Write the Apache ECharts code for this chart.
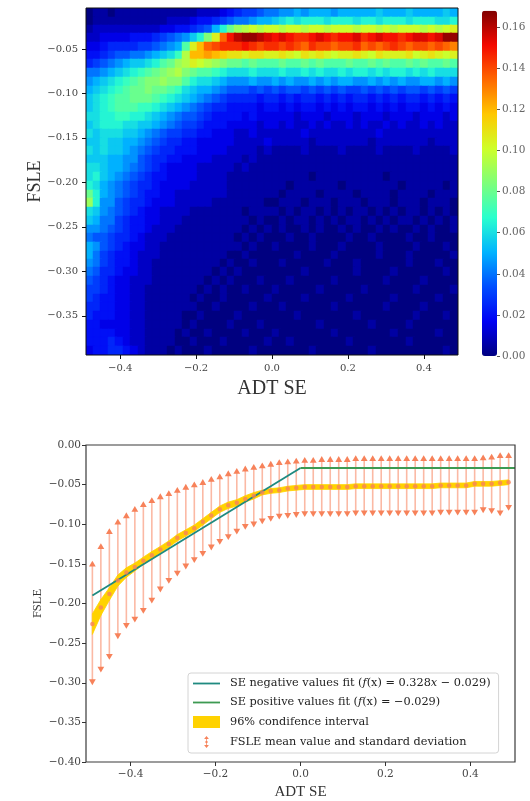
<!DOCTYPE html>
<html><head><meta charset="utf-8">
<script src="https://cdn.jsdelivr.net/npm/echarts@6/dist/echarts.min.js"></script>
<style>html,body{margin:0;padding:0;background:#fff}#c{width:530px;height:801px}</style>
</head><body><div id="c"></div>
<script>
// ---------- data ----------
const xs = [-0.49,-0.47,-0.45,-0.43,-0.41,-0.39,-0.37,-0.35,-0.33,-0.31,-0.29,-0.27,-0.25,-0.23,-0.21,-0.19,-0.17,-0.15,-0.13,-0.11,-0.09,-0.07,-0.05,-0.03,-0.01,0.01,0.03,0.05,0.07,0.09,0.11,0.13,0.15,0.17,0.19,0.21,0.23,0.25,0.27,0.29,0.31,0.33,0.35,0.37,0.39,0.41,0.43,0.45,0.47,0.49];
const heatX = [-0.480,-0.461,-0.441,-0.421,-0.402,-0.382,-0.363,-0.343,-0.323,-0.304,-0.284,-0.265,-0.245,-0.225,-0.206,-0.186,-0.167,-0.147,-0.127,-0.108,-0.088,-0.069,-0.049,-0.029,-0.010,0.010,0.029,0.049,0.069,0.088,0.108,0.127,0.147,0.167,0.186,0.206,0.225,0.245,0.265,0.284,0.304,0.323,0.343,0.363,0.382,0.402,0.421,0.441,0.461,0.480];
const heatY = [-0.009,-0.019,-0.028,-0.038,-0.048,-0.058,-0.067,-0.077,-0.087,-0.097,-0.106,-0.116,-0.126,-0.136,-0.145,-0.155,-0.165,-0.175,-0.184,-0.194,-0.204,-0.214,-0.223,-0.233,-0.243,-0.253,-0.262,-0.272,-0.282,-0.292,-0.301,-0.311,-0.321,-0.331,-0.340,-0.350,-0.360,-0.370,-0.379,-0.389];
const heatBinW = 0.0196, heatBinH = 0.00975;
// heatmap density, one string per row (top to bottom), one char per column; char index * 0.005
const HEAT_LEVELS = '0123456789abcdefghijklmnopqrstuvwxy';
const HEAT_STEP = 0.005;
const heatRows = [
"01101111111111122234"+"56678"+"899a9aaa9aaaaabaaabaaaaba",
"01111111111222344567"+"889aa"+"bcdcdddcdddcddcdddcdddccd",
"12222222223344567adg"+"ijkjk"+"kjkkjkkjkkkjkkjkjkkkjkjkl",
"22333344456789bdhlru"+"wxxwv"+"uvuttuvutuuvtuvuutuvvuvxx",
"334555566789aflorstt"+"tutst"+"tstsrtssrsstrsrstsrssrsrq",
"445677889abcejooponm"+"mlmml"+"lmlkmlmlkllmlkmlllmklmlkl",
"56789abbcdfgijlkjihg"+"gfgff"+"fgffgfgfffgffgfgffgfgffgf",
"889abcdefghijhgffedc"+"ccdcc"+"cdccdcdccdcddcdcddcdcdccc",
"9abcdefghhihhfdccba9"+"99a99"+"a9a99a9a9aa99a9a9a99aa9a9",
"abcdefgghggfecbaa987"+"77676"+"7677676767667676767767676",
"bcdeffgggfedcba98765"+"55545"+"5454554545455454545545454",
"bcdefffeedcba9876554"+"44434"+"4343443434344343434434343",
"ccddeeddcba987765444"+"43433"+"3332333233323332333233323",
"bcdddccbba9876654443"+"33323"+"3232232322323223232232322",
"cbcccbba987665544333"+"22322"+"2222322222222232222222222",
"bbcbbaa9876554433333"+"22223"+"2222212222222122222221222",
"cbcbba98765544433332"+"22212"+"1111211112111121111211112",
"bbbaa997655443333222"+"21211"+"1111111111111111111111111",
"ccbaa987654333322222"+"12111"+"1111111111111111111111111",
"cdba9876544333322221"+"11111"+"1111101111111110111111111",
"dca98765543333222221"+"11111"+"1101111110111111101111101",
"gda98765443322222221"+"11111"+"1011110111101111011110111",
"id997655433322222111"+"11110"+"0111011101110111011101110",
"cb987654332222111111"+"10111"+"1010110101011010101101010",
"ba886544332221111111"+"11010"+"0101101010110101011010101",
"99876544322211111111"+"10101"+"0100101001010010100101001",
"87765543222111111111"+"01010"+"0010010000100100001001000",
"a9765433221111111111"+"10100"+"1000010001000010000100010",
"a8654432221111111110"+"01000"+"0001000010000010001000001",
"98654432211111111101"+"00100"+"0100000100010000001000100",
"87554332211111111010"+"10000"+"0000100000010000100000010",
"76543322211111110101"+"00010"+"0010000010000001000010000",
"66543322111111101010"+"01000"+"1000001000001000000100001",
"65443322111111010010"+"00001"+"0000100000100000100000100",
"55443322111111100100"+"00100"+"0100000010000001000010000",
"54443322111110010000"+"10000"+"0001000000010000000100010",
"44333322111110100001"+"00010"+"0000001000000100001000000",
"44443322111101001000"+"01000"+"1000000010000000100000100",
"44454322111100100010"+"00001"+"0010000000100000001000000",
"34455432111010001000"+"00100"+"0000010000000100000000010"
];
const heatXTicks = [-0.4,-0.2,0,0.2,0.4];
const heatYTicks = [-0.35,-0.30,-0.25,-0.20,-0.15,-0.10,-0.05];
const cbTicks = [0,0.02,0.04,0.06,0.08,0.10,0.12,0.14,0.16];
const cbMax = 0.168;

const meanV = [-0.226,-0.205,-0.188,-0.171,-0.161,-0.154,-0.146,-0.139,-0.132,-0.125,-0.117,-0.111,-0.105,-0.097,-0.089,-0.081,-0.076,-0.073,-0.068,-0.064,-0.060,-0.058,-0.057,-0.055,-0.054,-0.053,-0.053,-0.053,-0.053,-0.053,-0.053,-0.052,-0.052,-0.052,-0.052,-0.052,-0.052,-0.052,-0.052,-0.052,-0.052,-0.051,-0.051,-0.051,-0.051,-0.049,-0.049,-0.049,-0.048,-0.047];
const upperV = [-0.146,-0.124,-0.105,-0.093,-0.085,-0.077,-0.071,-0.066,-0.061,-0.057,-0.053,-0.049,-0.046,-0.043,-0.039,-0.036,-0.032,-0.029,-0.026,-0.024,-0.022,-0.020,-0.018,-0.017,-0.016,-0.015,-0.015,-0.014,-0.014,-0.014,-0.014,-0.013,-0.013,-0.013,-0.013,-0.013,-0.013,-0.013,-0.013,-0.013,-0.013,-0.013,-0.013,-0.013,-0.013,-0.013,-0.012,-0.011,-0.009,-0.009];
const lowerV = [-0.303,-0.287,-0.271,-0.245,-0.232,-0.224,-0.213,-0.200,-0.186,-0.175,-0.166,-0.157,-0.149,-0.141,-0.133,-0.126,-0.120,-0.113,-0.107,-0.104,-0.100,-0.097,-0.094,-0.093,-0.092,-0.091,-0.091,-0.091,-0.091,-0.091,-0.091,-0.090,-0.090,-0.090,-0.090,-0.090,-0.090,-0.090,-0.090,-0.090,-0.090,-0.089,-0.089,-0.089,-0.089,-0.089,-0.086,-0.087,-0.090,-0.083];
const ciHalf = [0.013,0.010,0.008,0.007,0.006,0.005,0.0045,0.0045,0.004,0.004,0.004,0.004,0.004,0.004,0.004,0.004,0.004,0.004,0.004,0.004,0.003,0.003,0.003,0.003,0.003,0.003,0.003,0.003,0.003,0.003,0.003,0.003,0.003,0.003,0.003,0.003,0.003,0.003,0.003,0.003,0.003,0.003,0.003,0.003,0.003,0.003,0.003,0.003,0.003,0.003];
const fitNegX = [-0.49, 0.0], fitNegY = [-0.190, -0.029];
const fitPosX = [0.0, 0.505], fitPosY = [-0.029, -0.029];
const botXTicks = [-0.4,-0.2,0,0.2,0.4];

const N1 = 'SE negative values fit (f(x) = 0.328x \u2212 0.029)';
const N2 = 'SE positive values fit (f(x) = \u22120.029)';
const N3 = '96% condifence interval';
const N4 = 'FSLE mean value and standard deviation';
const legendRich = {};
legendRich[N1] = 'SE negative values fit ({i|f}(x) = 0.328{i|x} \u2212 0.029)';
legendRich[N2] = 'SE positive values fit ({i|f}(x) = \u22120.029)';
legendRich[N3] = N3;
legendRich[N4] = N4;

// ---------- build ----------
const heatData = [];
heatRows.forEach((row, r) => {
  for (let j = 0; j < heatX.length; j++) {
    const ch = row[j] || '0';
    heatData.push([heatX[j], heatY[r], Math.max(0, HEAT_LEVELS.indexOf(ch)) * HEAT_STEP]);
  }
});
const SERIF = "'DejaVu Serif','Liberation Serif',serif";
const TSERIF = "'Liberation Serif','DejaVu Serif',serif";
const minus = s => s.replace('-', '\u2212');
const fmt1 = v => minus((Math.abs(v) < 1e-9 ? 0 : v).toFixed(1));
const fmt2 = v => minus((Math.abs(v) < 1e-9 ? 0 : v).toFixed(2));
const jet = ['#000080','#0000f4','#004dff','#00b3ff','#29ffce','#7dff7a','#ceff29','#ffc800','#ff6800','#f40900','#800000'];
const ebLine = 'rgba(247,128,90,0.55)', ebTri = '#f7825a';
const GOLD = '#ffd200';
const LINE_ICON = 'path://M0,0 L30,0 L30,2 L0,2 Z';

const chart = echarts.init(document.getElementById('c'), null, {renderer: 'canvas'});
chart.setOption({
  animation: false,
  backgroundColor: '#fff',
  grid: [
    {left: 86, top: 8, width: 372, height: 347, show: true, borderColor: '#111', borderWidth: 1, backgroundColor: 'transparent', z: 10},
    {left: 482, top: 10.7, width: 15, height: 345.3},
    {left: 86, top: 445, width: 429, height: 318, show: true, borderColor: '#3a3a3a', borderWidth: 1.2, backgroundColor: 'transparent', z: 10}
  ],
  xAxis: [
    {gridIndex: 0, type: 'value', min: -0.49, max: 0.49, z: 10,
      axisLine: {show: false, onZero: false}, splitLine: {show: false},
      axisTick: {show: true, length: 4, lineStyle: {color: '#111'}, customValues: heatXTicks},
      axisLabel: {customValues: heatXTicks, formatter: fmt1, color: '#444', fontFamily: SERIF, fontSize: 10, margin: 8},
      name: 'ADT SE', nameLocation: 'middle', nameGap: 24, nameMoveOverlap: false,
      nameTextStyle: {fontFamily: TSERIF, fontSize: 20, color: '#333'}},
    {gridIndex: 1, type: 'value', min: 0, max: 1, show: false},
    {gridIndex: 2, type: 'value', min: -0.505, max: 0.505, z: 10,
      axisLine: {show: false, onZero: false}, splitLine: {show: false},
      axisTick: {show: true, length: 4, lineStyle: {color: '#333'}, customValues: botXTicks},
      axisLabel: {customValues: botXTicks, formatter: fmt1, color: '#444', fontFamily: SERIF, fontSize: 10.5, margin: 7},
      name: 'ADT SE', nameLocation: 'middle', nameGap: 23, nameMoveOverlap: false,
      nameTextStyle: {fontFamily: TSERIF, fontSize: 15, color: '#333'}}
  ],
  yAxis: [
    {gridIndex: 0, type: 'value', min: -0.394, max: -0.004, z: 10,
      axisLine: {show: false, onZero: false}, splitLine: {show: false},
      axisTick: {show: true, length: 4, lineStyle: {color: '#111'}, customValues: heatYTicks},
      axisLabel: {customValues: heatYTicks, formatter: fmt2, color: '#444', fontFamily: SERIF, fontSize: 10, margin: 8},
      name: 'FSLE', nameLocation: 'middle', nameGap: 42, nameMoveOverlap: false,
      nameTextStyle: {fontFamily: TSERIF, fontSize: 18, color: '#333'}},
    {gridIndex: 1, type: 'value', min: 0, max: cbMax, position: 'right',
      axisLine: {show: false, onZero: false}, splitLine: {show: false},
      axisTick: {show: true, length: 3, lineStyle: {color: '#555'}, customValues: cbTicks},
      axisLabel: {customValues: cbTicks, formatter: fmt2, color: '#666', fontFamily: SERIF, fontSize: 10.5, margin: 5}},
    {gridIndex: 2, type: 'value', min: -0.4, max: 0, interval: 0.05, z: 10,
      axisLine: {show: false, onZero: false}, splitLine: {show: false},
      axisTick: {show: true, length: 4, lineStyle: {color: '#333'}},
      axisLabel: {formatter: fmt2, color: '#444', fontFamily: SERIF, fontSize: 10.5, margin: 5},
      name: 'FSLE', nameLocation: 'middle', nameGap: 42, nameMoveOverlap: false,
      nameTextStyle: {fontFamily: TSERIF, fontSize: 12.5, color: '#333'}}
  ],
  visualMap: {
    type: 'continuous', min: 0, max: cbMax, seriesIndex: 0, dimension: 2, calculable: false,
    left: 482, top: 10.7, itemWidth: 15, itemHeight: 345.3, padding: 0,
    inRange: {color: jet}, hoverLink: false
  },
  legend: {
    left: 188, top: 673, orient: 'vertical', selectedMode: false,
    padding: [5, 8, 5, 5], itemGap: 8, itemWidth: 27, itemHeight: 12,
    backgroundColor: 'rgba(255,255,255,0.9)', borderColor: '#d4d4d4', borderWidth: 1, borderRadius: 3,
    data: [
      {name: N1, icon: LINE_ICON},
      {name: N2, icon: LINE_ICON},
      {name: N3, icon: 'rect'},
      {name: N4, icon: 'path://M5,0 L9,5 L1,5 Z M4.4,5 L5.6,5 L5.6,15 L4.4,15 Z M5,20 L9,15 L1,15 Z M3.3,8.3 L6.7,8.3 L6.7,11.7 L3.3,11.7 Z'}
    ],
    formatter: n => legendRich[n] || n,
    textStyle: {fontFamily: SERIF, fontSize: 11.3, color: '#222', padding: [0, 0, 0, 5],
      rich: {i: {fontFamily: SERIF, fontStyle: 'italic', fontSize: 11.3, color: '#222'}}}
  },
  series: [
    {type: 'custom', xAxisIndex: 0, yAxisIndex: 0, clip: true, silent: true,
      encode: {x: 0, y: 1},
      data: heatData,
      renderItem: (params, api) => {
        const c = api.coord([api.value(0) - heatBinW / 2, api.value(1) + heatBinH / 2]);
        const s = api.size([heatBinW, heatBinH]);
        const col = api.visual('color');
        return {type: 'rect', shape: {x: Math.floor(c[0]), y: Math.floor(c[1]), width: Math.ceil(s[0]) + 1, height: Math.ceil(s[1]) + 1},
          style: {fill: col, stroke: col, lineWidth: 0.5}};
      }},
    {type: 'custom', name: N4, xAxisIndex: 2, yAxisIndex: 2, z: 2, silent: true,
      itemStyle: {color: ebTri},
      encode: {x: 0, y: [1, 2]},
      data: xs.map((x, i) => [x, lowerV[i], upperV[i]]),
      renderItem: (params, api) => {
        const x = api.value(0);
        const lo = api.coord([x, api.value(1)]);
        const hi = api.coord([x, api.value(2)]);
        const w = 3.4, h = 5.8;
        return {type: 'group', children: [
          {type: 'line', shape: {x1: lo[0], y1: lo[1] - 2, x2: hi[0], y2: hi[1] + 2}, style: {stroke: ebLine, lineWidth: 1.6}},
          {type: 'polygon', shape: {points: [[hi[0], hi[1]], [hi[0] - w, hi[1] + h], [hi[0] + w, hi[1] + h]]}, style: {fill: ebTri}},
          {type: 'polygon', shape: {points: [[lo[0], lo[1]], [lo[0] - w, lo[1] - h], [lo[0] + w, lo[1] - h]]}, style: {fill: ebTri}}
        ]};
      }},
    {type: 'custom', name: N3, xAxisIndex: 2, yAxisIndex: 2, z: 3, silent: true,
      itemStyle: {color: GOLD},
      encode: {x: 0, y: [1, 2]},
      data: xs.map((x, i) => [x, meanV[i] - ciHalf[i], meanV[i] + ciHalf[i]]),
      renderItem: (params, api) => {
        const i = params.dataIndexInside;
        if (i >= params.dataInsideLength - 1) return null;
        const x0 = api.value(0, i), x1 = api.value(0, i + 1);
        const pts = [api.coord([x0, api.value(1, i)]), api.coord([x1, api.value(1, i + 1)]),
                     api.coord([x1, api.value(2, i + 1)]), api.coord([x0, api.value(2, i)])];
        return {type: 'polygon', shape: {points: pts}, style: {fill: GOLD, stroke: GOLD, lineWidth: 0.8}};
      }},
    {type: 'line', name: N1, xAxisIndex: 2, yAxisIndex: 2, z: 4, symbol: 'none', silent: true,
      itemStyle: {color: '#1f8a80'}, lineStyle: {color: '#1f8a80', width: 1.8},
      data: fitNegX.map((x, i) => [x, fitNegY[i]])},
    {type: 'line', name: N2, xAxisIndex: 2, yAxisIndex: 2, z: 4, symbol: 'none', silent: true,
      itemStyle: {color: '#3d9a52'}, lineStyle: {color: '#3d9a52', width: 2},
      data: fitPosX.map((x, i) => [x, fitPosY[i]])},
    {type: 'scatter', name: N4, xAxisIndex: 2, yAxisIndex: 2, z: 5, symbol: 'circle', symbolSize: 4.5, silent: true,
      itemStyle: {color: ebTri},
      data: xs.map((x, i) => [x, meanV[i]])}
  ]
});
</script></body></html>
